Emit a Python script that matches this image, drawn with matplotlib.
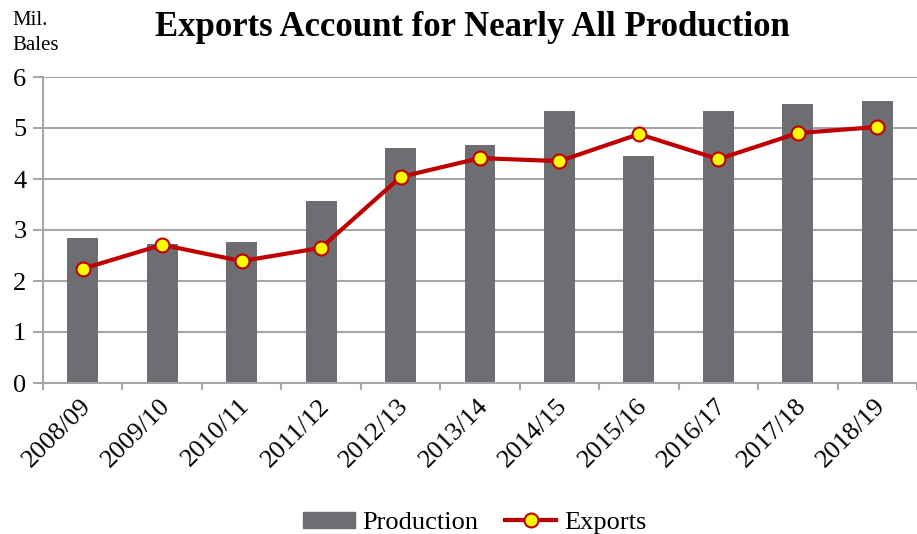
import numpy as np
import matplotlib.pyplot as plt
from matplotlib.lines import Line2D
from matplotlib.patches import Patch
from matplotlib.transforms import ScaledTranslation

plt.rcParams['font.family'] = ['Liberation Serif', 'DejaVu Serif']

# marketing years and values (million bales)
years = ['2008/09', '2009/10', '2010/11', '2011/12', '2012/13', '2013/14',
         '2014/15', '2015/16', '2016/17', '2017/18', '2018/19']
production = [2.84, 2.73, 2.76, 3.57, 4.61, 4.67, 5.33, 4.45, 5.33, 5.47, 5.53]
exports = [2.24, 2.71, 2.39, 2.65, 4.04, 4.41, 4.35, 4.88, 4.39, 4.90, 5.02]

bar_col = '#6E6D72'
line_col = '#C00000'
grid_col = '#A6A6A6'

fig = plt.figure(figsize=(9.17, 5.34), dpi=100)
ax = fig.add_axes([43/917, 1-383/534, 1-43/917, (383-77)/534])

x = np.arange(len(years))
ax.bar(x, production, width=0.39, color=bar_col, zorder=2)
ax.plot(x, exports, color=line_col, lw=3, marker='o', ms=10,
        mfc='#FFFF00', mec=line_col, mew=1.5, zorder=3)

ax.set_ylim(0, 6)
ax.set_xlim(-0.5, 10.44)
ax.set_yticks(range(0, 7))
ax.yaxis.grid(True, color=grid_col, lw=1.5, zorder=0)
ax.set_axisbelow(True)

# ticks between categories
ax.set_xticks(np.arange(-0.5, 11, 1), minor=False)
ax.set_xticklabels([])
ax.set_xticks(x, minor=True)
ax.set_xticklabels(years, minor=True, rotation=45, ha='right',
                   rotation_mode='anchor', fontsize=19)
ax.tick_params(axis='x', which='minor', length=0, pad=10)
ax.tick_params(axis='x', which='major', length=5, color=grid_col, width=1.5)
ax.tick_params(axis='y', length=7, color=grid_col, width=1.5, labelsize=19, pad=5)
for lab in ax.get_xticklabels(minor=True):
    lab.set_transform(lab.get_transform() + ScaledTranslation(-0.03, 0.02, fig.dpi_scale_trans))

for s in ['top', 'right']:
    ax.spines[s].set_visible(False)
for s in ['left', 'bottom']:
    ax.spines[s].set_color(grid_col)
    ax.spines[s].set_linewidth(1.5)

fig.text(472/917, 1-27/534, 'Exports Account for Nearly All Production',
         ha='center', va='center', fontsize=25, fontweight='bold')
fig.text(12/917, 1-33/534, 'Mil.\nBales', ha='left', va='center',
         fontsize=15, linespacing=1.4)

handles = [Patch(color=bar_col, label='Production'),
           Line2D([0], [0], color=line_col, lw=3, marker='o', ms=10,
                  mfc='#FFFF00', mec=line_col, mew=1.5, label='Exports')]
fig.legend(handles=handles, loc='center', bbox_to_anchor=(475/917, 1-523/534),
           ncol=2, frameon=False, fontsize=19, handlelength=1.95,
           handleheight=0.6, columnspacing=1.0, handletextpad=0.3)

fig.savefig('out.png', dpi=100)
